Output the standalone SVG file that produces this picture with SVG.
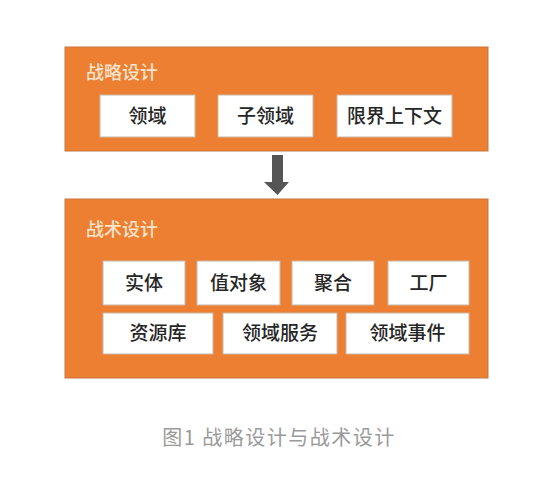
<svg xmlns="http://www.w3.org/2000/svg" width="558" height="480" viewBox="0 0 558 480">
<style>
.panel{fill:#EC7F32;stroke:#C9773F;stroke-width:1}
.box{fill:#FFFFFF;stroke:#C8B8A8;stroke-width:1}
.t{font-family:"Noto Sans CJK SC","Noto Sans",sans-serif;font-size:19px;font-weight:500;fill:#262626;text-anchor:middle}
.h{font-family:"Noto Sans CJK SC","Noto Sans",sans-serif;font-size:18px;font-weight:500;fill:#FBE3CC}
.cap{font-family:"Noto Sans CJK SC","Liberation Sans",sans-serif;font-size:20px;letter-spacing:1.5px;fill:#9A9A9A;text-anchor:middle}
</style>
<rect width="558" height="480" fill="#FFFFFF"/>
<g id="strategic">
<rect class="panel" x="65" y="47" width="423" height="104"/>
<text class="h" x="86" y="79">战略设计</text>
</g>
<g id="domain"><rect class="box" x="100" y="95" width="95" height="42"/><text class="t" x="147.5" y="123">领域</text></g>
<g id="subdomain"><rect class="box" x="218" y="95" width="95" height="42"/><text class="t" x="265.5" y="123">子领域</text></g>
<g id="bounded-context"><rect class="box" x="337" y="95" width="115" height="42"/><text class="t" x="394.5" y="123">限界上下文</text></g>
<g id="connectors">
<polygon points="272,155 283,155 283,182 289,182 277.5,195 264,182 272,182" fill="#555555"/>
</g>
<g id="tactical">
<rect class="panel" x="65" y="199" width="423" height="179"/>
<text class="h" x="86" y="236">战术设计</text>
</g>
<g id="entity"><rect class="box" x="103" y="261" width="82" height="44"/><text class="t" x="144" y="290">实体</text></g>
<g id="value-object"><rect class="box" x="197" y="261" width="83" height="44"/><text class="t" x="238.5" y="290">值对象</text></g>
<g id="aggregate"><rect class="box" x="292" y="261" width="82" height="44"/><text class="t" x="333" y="290">聚合</text></g>
<g id="factory"><rect class="box" x="388" y="261" width="81" height="44"/><text class="t" x="428.5" y="290">工厂</text></g>
<g id="repository"><rect class="box" x="103" y="313" width="110" height="41"/><text class="t" x="158" y="340">资源库</text></g>
<g id="domain-service"><rect class="box" x="223" y="313" width="114" height="41"/><text class="t" x="280" y="340">领域服务</text></g>
<g id="domain-event"><rect class="box" x="346" y="313" width="123" height="41"/><text class="t" x="407.5" y="340">领域事件</text></g>
<text class="cap" x="279" y="445">图1 战略设计与战术设计</text>
</svg>
